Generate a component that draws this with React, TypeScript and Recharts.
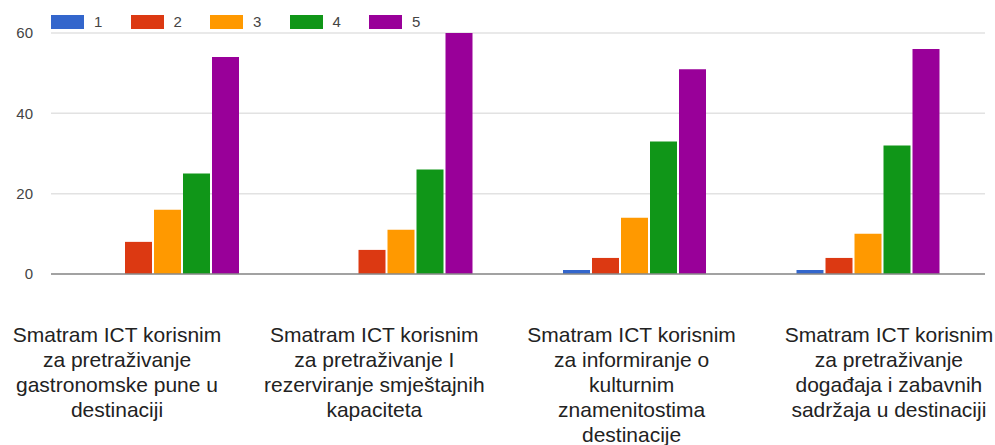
import React from "react";
import { BarChart, Bar, XAxis, YAxis, CartesianGrid, Legend } from "recharts";

const CATEGORIES: string[][] = [
  ["Smatram ICT korisnim", "za pretraživanje", "gastronomske pune u", "destinaciji"],
  ["Smatram ICT korisnim", "za pretraživanje I", "rezerviranje smještajnih", "kapaciteta"],
  ["Smatram ICT korisnim", "za informiranje o", "kulturnim", "znamenitostima", "destinacije"],
  ["Smatram ICT korisnim", "za pretraživanje", "događaja i zabavnih", "sadržaja u destinaciji"],
];

const S1 = [0, 0, 1, 1];
const S2 = [8, 6, 4, 4];
const S3 = [16, 11, 14, 10];
const S4 = [25, 26, 33, 32];
const S5 = [54, 60, 51, 56];

const SERIES_KEYS = ["1", "2", "3", "4", "5"];
const SERIES_COLORS = ["#3366cc", "#dc3912", "#ff9900", "#109618", "#990099"];
const Y_TICKS = [0, 20, 40, 60];

const SERIES_VALUES = [S1, S2, S3, S4, S5];

const data = CATEGORIES.map((lines, i) => {
  const row: Record<string, any> = { name: lines.join("\n"), idx: i };
  SERIES_KEYS.forEach((k, j) => {
    row[k] = SERIES_VALUES[j][i];
  });
  return row;
});

const LABEL_START = 117;
const LABEL_STEP = 257.3;

const CategoryTick = (props: any) => {
  const { y, payload, index } = props;
  const lines: string[] = String(payload.value).split("\n");
  const cx = LABEL_START + index * LABEL_STEP;
  return (
    <text
      x={cx}
      y={y}
      textAnchor="middle"
      fill="#222"
      fontSize={21}
      fontFamily="'Liberation Sans', Arial, sans-serif"
    >
      {lines.map((l, i) => (
        <tspan key={i} x={cx} dy={i === 0 ? 60 : 25}>
          {l}
        </tspan>
      ))}
    </text>
  );
};

const LegendContent = (props: any) => {
  const payload = props.payload || [];
  return (
    <div style={{ display: "flex", flexDirection: "row", height: 0, overflow: "visible" }}>
      {payload.map((p: any, i: number) => (
        <div
          key={i}
          style={{
            display: "flex",
            alignItems: "center",
            width: 79.5,
            height: 15,
          }}
        >
          <div style={{ width: 33, height: 14, background: p.color }} />
          <span
            style={{
              marginLeft: 10,
              fontSize: 15,
              color: "#444",
              fontFamily: "'Liberation Sans', Arial, sans-serif",
              lineHeight: "15px",
            }}
          >
            {p.value}
          </span>
        </div>
      ))}
    </div>
  );
};

export default function App() {
  return (
    <div style={{ position: "absolute", left: 0, top: 0, width: 995, height: 445, background: "#fff" }}>
      <BarChart
        width={995}
        height={445}
        data={data}
        margin={{ top: 33, right: 10, bottom: 0, left: 0 }}
        barSize={27}
        barGap={2}
      >
        <CartesianGrid horizontal={true} vertical={false} stroke="#e2e2e2" strokeWidth={1.5} />
        <XAxis
          dataKey="name"
          interval={0}
          tickLine={false}
          axisLine={{ stroke: "#8a8a8a", strokeWidth: 1.5 }}
          tick={<CategoryTick />}
          height={171}
        />
        <YAxis
          width={51}
          domain={[0, 60]}
          ticks={Y_TICKS}
          tickLine={false}
          axisLine={false}
          tickMargin={12}
          tick={{ fill: "#444", fontSize: 15, fontFamily: "'Liberation Sans', Arial, sans-serif" }}
        />
        <Legend
          verticalAlign="top"
          align="left"
          content={<LegendContent />}
          wrapperStyle={{ position: "absolute", top: 14, left: 51, height: 0, width: "auto" }}
        />
        {SERIES_KEYS.map((k, j) => (
          <Bar key={k} dataKey={k} fill={SERIES_COLORS[j]} isAnimationActive={false} />
        ))}
      </BarChart>
    </div>
  );
}
